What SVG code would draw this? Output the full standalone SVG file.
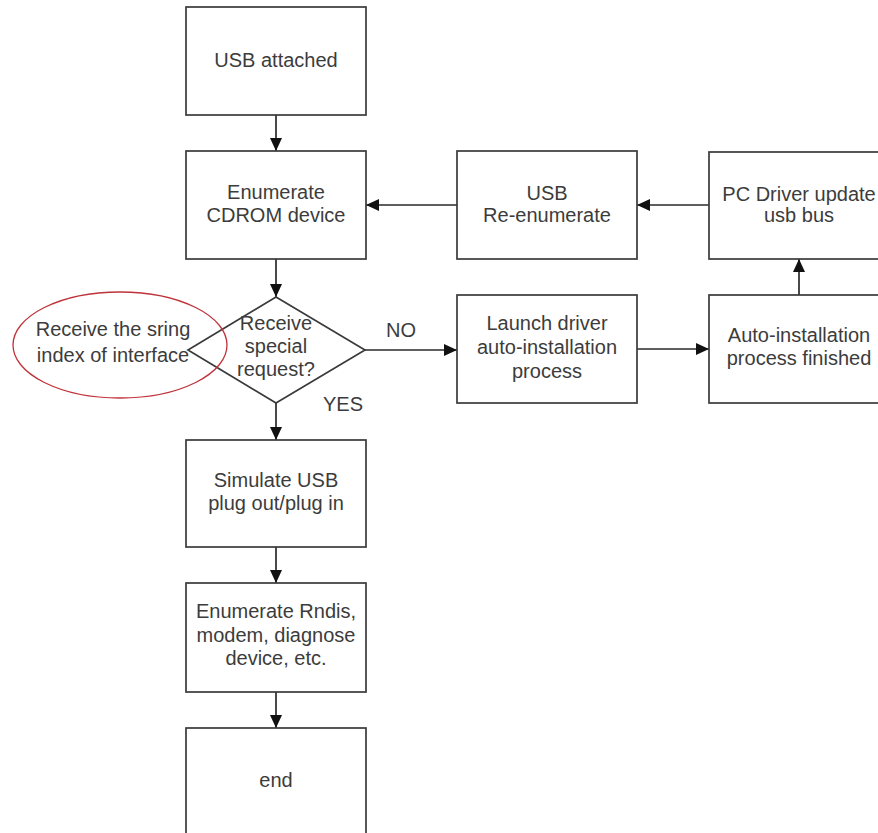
<svg xmlns="http://www.w3.org/2000/svg" width="878" height="833" viewBox="0 0 878 833">
<style>
.box{fill:#fff;stroke:#3a3a3a;stroke-width:1.7}
.t{font-family:"Liberation Sans",Arial,sans-serif;font-size:20px;fill:#3c3c3c;text-anchor:middle}
.l{font-family:"Liberation Sans",Arial,sans-serif;font-size:20px;fill:#3c3c3c}
.c{stroke:#2a2a2a;stroke-width:1.7;fill:none;marker-end:url(#ah)}
</style>
<defs>
<marker id="ah" markerUnits="userSpaceOnUse" markerWidth="14" markerHeight="12" refX="13" refY="6" orient="auto">
<path d="M0,0 L13,6 L0,12 Z" fill="#111"/>
</marker>
</defs>
<rect width="878" height="833" fill="#fff"/>
<g id="connectors">
<line class="c" x1="276" y1="115" x2="276" y2="151"/>
<line class="c" x1="276" y1="259" x2="276" y2="297"/>
<line class="c" x1="276" y1="403" x2="276" y2="440"/>
<line class="c" x1="276" y1="547" x2="276" y2="583"/>
<line class="c" x1="276" y1="692" x2="276" y2="728"/>
<line class="c" x1="365" y1="350" x2="457" y2="350"/>
<line class="c" x1="637" y1="349" x2="709" y2="349"/>
<line class="c" x1="799" y1="295" x2="799" y2="259"/>
<line class="c" x1="709" y1="205" x2="637" y2="205"/>
<line class="c" x1="457" y1="205" x2="366" y2="205"/>
<text class="l" x="386" y="337">NO</text>
<text class="l" x="323" y="411">YES</text>
</g>
<g id="usb-attached">
<rect class="box" x="186" y="7" width="180" height="108"/>
<text class="t" x="276" y="67">USB attached</text>
</g>
<g id="enumerate-cdrom">
<rect class="box" x="186" y="151" width="180" height="108"/>
<text class="t" x="276" y="199">Enumerate</text>
<text class="t" x="276" y="222">CDROM device</text>
</g>
<g id="decision">
<polygon class="box" points="276,297 365,350 276,403 188,350"/>
<text class="t" x="276" y="330">Receive</text>
<text class="t" x="276" y="353">special</text>
<text class="t" x="276" y="376">request?</text>
</g>
<g id="note">
<ellipse cx="120" cy="345" rx="107" ry="53" fill="none" stroke="#c0323a" stroke-width="1.3"/>
<text class="t" x="113" y="336">Receive the sring</text>
<text class="t" x="113" y="362">index of interface</text>
</g>
<g id="usb-reenumerate">
<rect class="box" x="457" y="151" width="180" height="108"/>
<text class="t" x="547" y="200">USB</text>
<text class="t" x="547" y="222">Re-enumerate</text>
</g>
<g id="pc-driver-update">
<rect class="box" x="709" y="152" width="180" height="107"/>
<text class="t" x="799" y="201">PC Driver update</text>
<text class="t" x="799" y="222">usb bus</text>
</g>
<g id="launch-driver">
<rect class="box" x="457" y="295" width="180" height="108"/>
<text class="t" x="547" y="330">Launch driver</text>
<text class="t" x="547" y="354">auto-installation</text>
<text class="t" x="547" y="378">process</text>
</g>
<g id="auto-install-finished">
<rect class="box" x="709" y="295" width="180" height="108"/>
<text class="t" x="799" y="342">Auto-installation</text>
<text class="t" x="799" y="365">process finished</text>
</g>
<g id="simulate-usb">
<rect class="box" x="186" y="440" width="180" height="107"/>
<text class="t" x="276" y="487">Simulate USB</text>
<text class="t" x="276" y="510">plug out/plug in</text>
</g>
<g id="enumerate-rndis">
<rect class="box" x="186" y="583" width="180" height="109"/>
<text class="t" x="276" y="618">Enumerate Rndis,</text>
<text class="t" x="276" y="642">modem, diagnose</text>
<text class="t" x="276" y="665">device, etc.</text>
</g>
<g id="end">
<rect class="box" x="186" y="728" width="180" height="108"/>
<text class="t" x="276" y="787">end</text>
</g>
</svg>
